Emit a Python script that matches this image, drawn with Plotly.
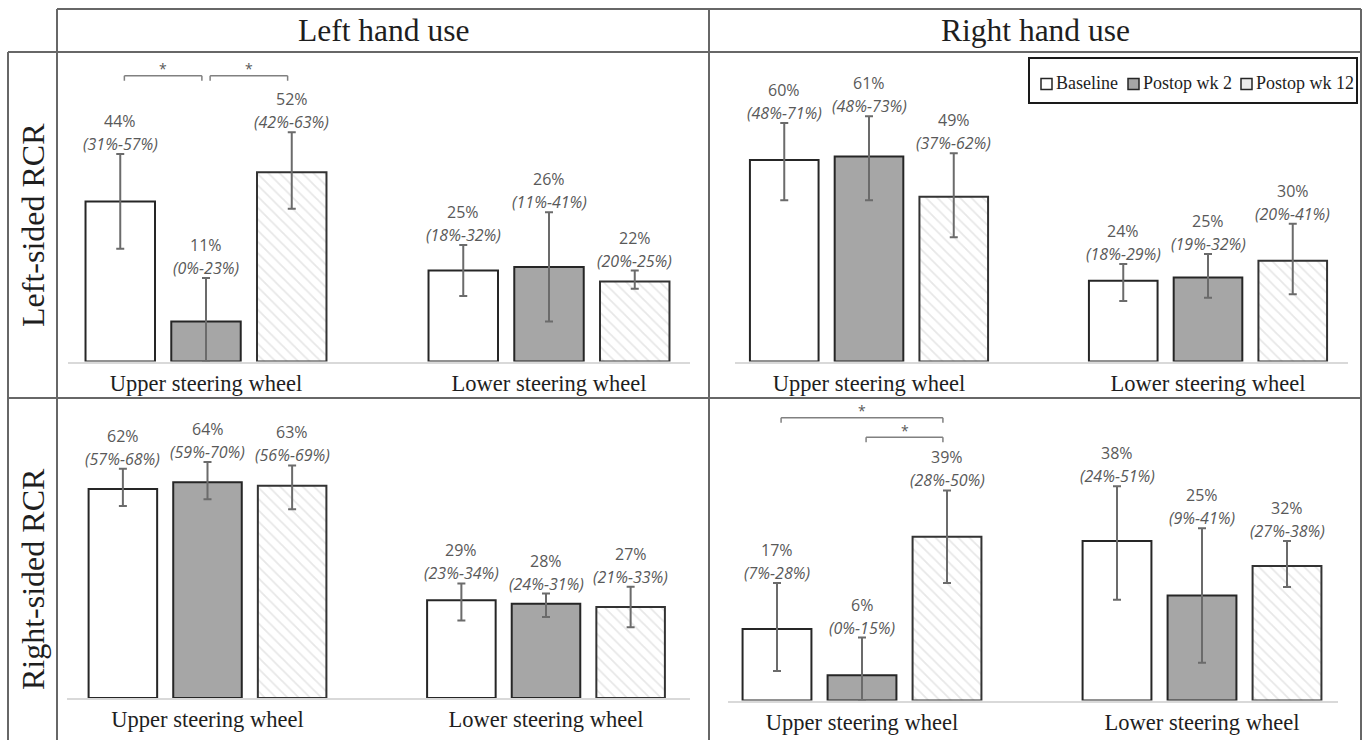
import plotly.graph_objects as go

FIG_W, FIG_H = 1363, 740

series_names = ["Baseline", "Postop wk 2", "Postop wk 12"]
locations = ["Upper steering wheel", "Lower steering wheel"]
hand_headers = ["Left hand use", "Right hand use"]
rcr_rows = ["Left-sided RCR", "Right-sided RCR"]

# Percent of time per series (rows) and wheel location (columns), with 95% CI
lrcr_lhand_est = [[44, 25], [11, 26], [52, 22]]
lrcr_lhand_lo = [[31, 18], [0, 11], [42, 20]]
lrcr_lhand_hi = [[57, 32], [23, 41], [63, 25]]

lrcr_rhand_est = [[60, 24], [61, 25], [49, 30]]
lrcr_rhand_lo = [[48, 18], [48, 19], [37, 20]]
lrcr_rhand_hi = [[71, 29], [73, 32], [62, 41]]

rrcr_lhand_est = [[62, 29], [64, 28], [63, 27]]
rrcr_lhand_lo = [[57, 23], [59, 24], [56, 21]]
rrcr_lhand_hi = [[68, 34], [70, 31], [69, 33]]

rrcr_rhand_est = [[17, 38], [6, 25], [39, 32]]
rrcr_rhand_lo = [[7, 24], [0, 9], [28, 27]]
rrcr_rhand_hi = [[28, 51], [15, 41], [50, 38]]

# Significant pairwise differences: (location index, series a, series b)
lrcr_lhand_sig = [(0, 0, 1), (0, 1, 2)]
rrcr_rhand_sig = [(0, 0, 2), (0, 1, 2)]


def fx(p):
    return p / FIG_W


def fy(p):
    return 1 - p / FIG_H


BARGAP = 0.25
BARGROUPGAP = 0.19
SLOT = (1 - BARGAP) / len(series_names)

LABEL_GREY = "#595959"
TEXT_DARK = "#1e1e1e"
SERIF = "Liberation Serif, Times New Roman, serif"
SANS = "Open Sans, Arial, sans-serif"

bar_styles = [
    dict(color="white", line=dict(color="#262626", width=2)),
    dict(color="#a6a6a6", line=dict(color="#262626", width=2)),
    dict(color="white", line=dict(color="#333333", width=2),
         pattern=dict(shape="\\", fgcolor="#cfcfcf", bgcolor="white",
                      size=8, solidity=0.22)),
]

# panel layout: pixel geometry of each chart cell
panels = [
    dict(est=lrcr_lhand_est, lo=lrcr_lhand_lo, hi=lrcr_lhand_hi, sig=lrcr_lhand_sig,
         sig_levels=[78.5, 78.5], xspan=(68, 690), c0=206, unit=343,
         base=361.6, top=52, ppu=3.64),
    dict(est=lrcr_rhand_est, lo=lrcr_rhand_lo, hi=lrcr_rhand_hi, sig=[],
         sig_levels=[], xspan=(735, 1348), c0=869, unit=339,
         base=361.5, top=52, ppu=3.36),
    dict(est=rrcr_lhand_est, lo=rrcr_lhand_lo, hi=rrcr_lhand_hi, sig=[],
         sig_levels=[], xspan=(67, 690), c0=207.5, unit=338.5,
         base=698, top=398, ppu=3.37),
    dict(est=rrcr_rhand_est, lo=rrcr_rhand_lo, hi=rrcr_rhand_hi, sig=rrcr_rhand_sig,
         sig_levels=[67.3, 62.7], xspan=(728, 1338), c0=862, unit=340,
         base=700.5, top=398, ppu=4.2),
]

fig = go.Figure()
annotations = []
shapes = []
layout_axes = {}

for k, p in enumerate(panels):
    sfx = "" if k == 0 else str(k + 1)
    xa, ya = "x" + sfx, "y" + sfx
    for i, name in enumerate(series_names):
        est = p["est"][i]
        lo = p["lo"][i]
        hi = p["hi"][i]
        fig.add_trace(go.Bar(
            x=locations, y=est, name=name, showlegend=False,
            marker=bar_styles[i],
            error_y=dict(type="data", symmetric=False,
                         array=[h - e for h, e in zip(hi, est)],
                         arrayminus=[e - l for e, l in zip(est, lo)],
                         color="#6b6b6b", thickness=2, width=4),
            xaxis=xa, yaxis=ya,
        ))
        for j in range(len(locations)):
            xc = j + (i - 1) * SLOT
            annotations.append(dict(
                x=xc, y=hi[j], xref=xa, yref=ya, text=f"{est[j]}%",
                showarrow=False, xanchor="center", yanchor="middle", yshift=33,
                font=dict(family=SANS, size=16, color=LABEL_GREY)))
            annotations.append(dict(
                x=xc, y=hi[j], xref=xa, yref=ya,
                text=f"<i>({lo[j]}%-{hi[j]}%)</i>",
                showarrow=False, xanchor="center", yanchor="middle", yshift=10,
                font=dict(family=SANS, size=16, color=LABEL_GREY)))

    # significance brackets
    drop = 5 / p["ppu"]
    for (j, a, b), lev in zip(p["sig"], p["sig_levels"]):
        x0 = j + (a - 1) * SLOT + 0.012
        x1 = j + (b - 1) * SLOT - 0.012
        seg = dict(xref=xa, yref=ya, type="line",
                   line=dict(color="#808080", width=1.5))
        shapes.append({**seg, "x0": x0, "x1": x1, "y0": lev, "y1": lev})
        shapes.append({**seg, "x0": x0, "x1": x0, "y0": lev, "y1": lev - drop})
        shapes.append({**seg, "x0": x1, "x1": x1, "y0": lev, "y1": lev - drop})
        annotations.append(dict(
            x=(x0 + x1) / 2, y=lev, xref=xa, yref=ya, text="*",
            showarrow=False, xanchor="center", yanchor="middle", yshift=7,
            font=dict(family=SANS, size=14, color=LABEL_GREY)))

    x0px, x1px = p["xspan"]
    layout_axes["xaxis" + sfx] = dict(
        domain=[fx(x0px), fx(x1px)], anchor=ya,
        range=[(x0px - p["c0"]) / p["unit"], (x1px - p["c0"]) / p["unit"]],
        showline=True, linecolor="#d9d9d9", linewidth=2, layer="below traces",
        showgrid=False, ticks="", fixedrange=True,
        tickfont=dict(family=SERIF, size=22.5, color=TEXT_DARK),
    )
    layout_axes["yaxis" + sfx] = dict(
        domain=[fy(p["base"]), fy(p["top"])], anchor=xa,
        range=[0, (p["base"] - p["top"]) / p["ppu"]],
        showline=False, showgrid=False, zeroline=False,
        showticklabels=False, ticks="", fixedrange=True,
    )

# table grid around the four charts
grid_color = "#676767"
grid_lines = [
    (57, 9, 1361, 9), (8, 52, 1361, 52), (8, 398, 1361, 398),
    (8, 52, 8, 760), (57, 9, 57, 760), (709, 9, 709, 760), (1361, 9, 1361, 760),
]
for xa0, ya0, xa1, ya1 in grid_lines:
    shapes.append(dict(type="line", xref="paper", yref="paper",
                       x0=fx(xa0), y0=fy(ya0), x1=fx(xa1), y1=fy(ya1),
                       line=dict(color=grid_color, width=2)))

# column and row headers
for txt, xc in zip(hand_headers, [383, 1035]):
    annotations.append(dict(x=fx(xc), y=fy(30), xref="paper", yref="paper",
                            text=txt, showarrow=False,
                            xanchor="center", yanchor="middle",
                            font=dict(family=SERIF, size=31.5, color=TEXT_DARK)))
for txt, yc in zip(rcr_rows, [225, 579]):
    annotations.append(dict(x=fx(33), y=fy(yc), xref="paper", yref="paper",
                            text=txt, showarrow=False, textangle=-90,
                            xanchor="center", yanchor="middle",
                            font=dict(family=SERIF, size=32, color=TEXT_DARK)))

# legend box
shapes.append(dict(type="rect", xref="paper", yref="paper",
                   x0=fx(1029), x1=fx(1357), y0=fy(58), y1=fy(103),
                   line=dict(color="#1a1a1a", width=2), fillcolor="white"))
legend_fill = ["white", "#a6a6a6", "#ececec"]
for name, fill, sx in zip(series_names, legend_fill, [1041, 1128, 1241]):
    shapes.append(dict(type="rect", xref="paper", yref="paper",
                       x0=fx(sx), x1=fx(sx + 11), y0=fy(78.5), y1=fy(89.5),
                       line=dict(color="#262626", width=1.5), fillcolor=fill))
    annotations.append(dict(x=fx(sx + 13), y=fy(83), xref="paper", yref="paper",
                            text=name, showarrow=False,
                            xanchor="left", yanchor="middle",
                            font=dict(family=SERIF, size=18, color=TEXT_DARK)))

fig.update_layout(
    width=FIG_W, height=FIG_H,
    margin=dict(l=0, r=0, t=0, b=0),
    paper_bgcolor="white", plot_bgcolor="white",
    barmode="group", bargap=BARGAP, bargroupgap=BARGROUPGAP,
    showlegend=False,
    annotations=annotations, shapes=shapes,
    **layout_axes,
)

fig.write_html("out.html")
